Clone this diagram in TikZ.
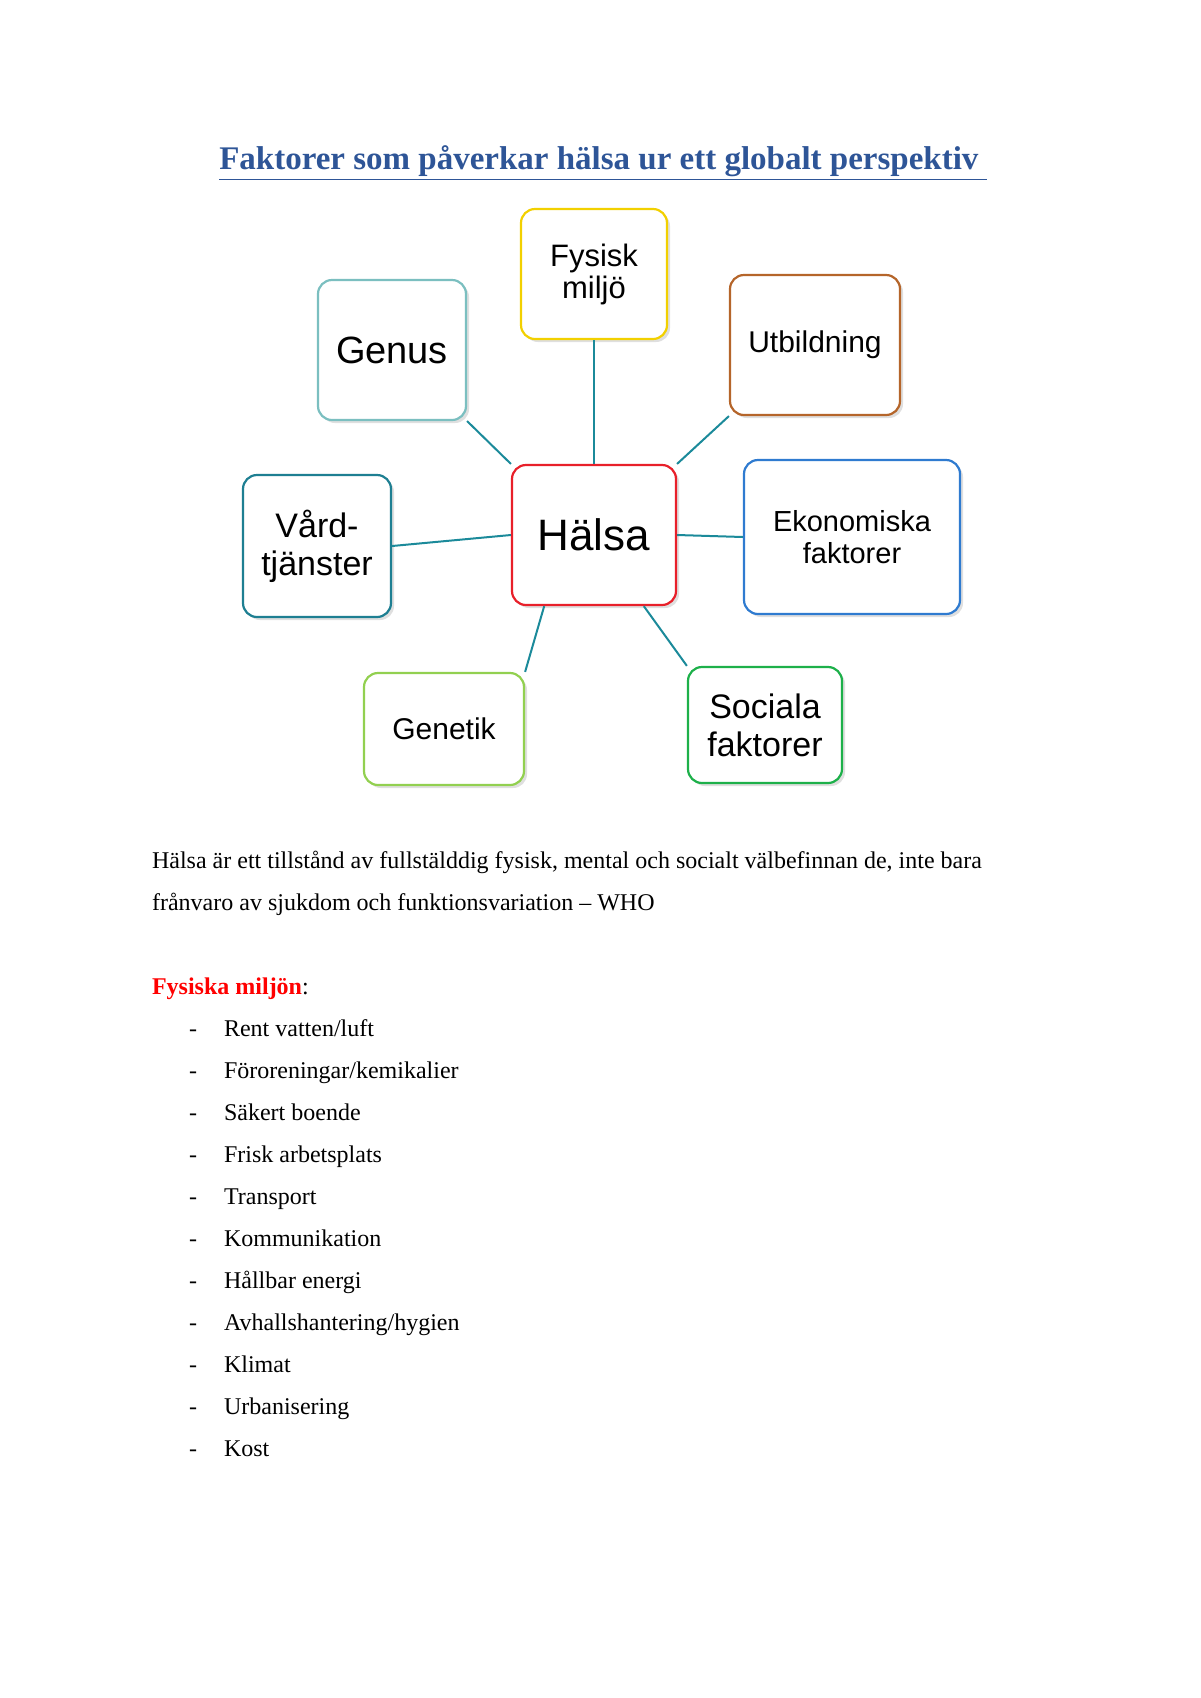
\documentclass[tikz,border=0pt]{standalone}
\usepackage{fontspec}
\setmainfont{Liberation Serif}
\newfontfamily\boxfont{Liberation Sans}
\usetikzlibrary{positioning,shadows}
\definecolor{titleblue}{HTML}{2E5597}
\definecolor{linkteal}{HTML}{1B8A9A}
\definecolor{genuscol}{HTML}{7BBFC0}
\definecolor{fysiskcol}{HTML}{F2D000}
\definecolor{utbcol}{HTML}{B5652A}
\definecolor{vardcol}{HTML}{1E7F92}
\definecolor{halsacol}{HTML}{E8202A}
\definecolor{ekocol}{HTML}{2F7BD0}
\definecolor{genetcol}{HTML}{92D050}
\definecolor{sociacol}{HTML}{1DB04A}

\begin{document}
\begin{tikzpicture}[
    x=0.5pt, y=-0.5pt,
    factor/.style={
      rectangle,
      rounded corners=7pt,
      draw,
      line width=1.1pt,
      fill=white,
      drop shadow={opacity=0.25,shadow xshift=1.5pt,shadow yshift=-1.5pt},
      align=center,
      inner sep=0pt,
      font=\boxfont
    },
    link/.style={draw=linkteal, line width=1pt},
    item/.style={anchor=base west, font=\fontsize{12}{14}\selectfont}
  ]
  \useasboundingbox (0,0) rectangle (1200,1698);

  \node[font=\fontsize{16.5}{20}\selectfont\bfseries, text=titleblue] (title) at (603,163)
    {\underline{Faktorer som påverkar hälsa ur ett globalt perspektiv\ }};

  % factor boxes
  \node[factor, draw=halsacol, minimum width=82pt, minimum height=70pt, font=\boxfont\fontsize{22}{26}\selectfont] (halsa) at (594,535) {Hälsa};
  \node[factor, draw=fysiskcol, minimum width=73pt, minimum height=65pt, font=\boxfont\fontsize{15.5}{16}\selectfont] (fysisk) at (594,274) {Fysisk\\miljö};
  \node[factor, draw=genuscol, minimum width=74pt, minimum height=70pt, font=\boxfont\fontsize{19}{22}\selectfont] (genus) at (392,350) {Genus};
  \node[factor, draw=utbcol, minimum width=85pt, minimum height=70pt, font=\boxfont\fontsize{15}{18}\selectfont] (utb) at (815,345) {Utbildning};
  \node[factor, draw=vardcol, minimum width=74pt, minimum height=71pt, font=\boxfont\fontsize{17}{19}\selectfont] (vard) at (317,546) {Vård-\\tjänster};
  \node[factor, draw=ekocol, minimum width=108pt, minimum height=77pt, font=\boxfont\fontsize{14.5}{16}\selectfont] (eko) at (852,537) {Ekonomiska\\faktorer};
  \node[factor, draw=genetcol, minimum width=80pt, minimum height=56pt, font=\boxfont\fontsize{15}{18}\selectfont] (genet) at (444,729) {Genetik};
  \node[factor, draw=sociacol, minimum width=77pt, minimum height=58pt, font=\boxfont\fontsize{17}{19}\selectfont] (socia) at (765,725) {Sociala\\faktorer};

  % connectors
  \draw[link] (fysisk.south) -- (halsa.north);
  \draw[link] (genus.south east) -- (halsa.north west);
  \draw[link] (utb.south west) -- (halsa.north east);
  \draw[link] (vard.east) -- (halsa.west);
  \draw[link] (eko.west) -- (halsa.east);
  \draw[link] (genet.north east) -- (halsa.-125);
  \draw[link] (socia.north west) -- (halsa.-55);

  % text below
  \node[item] (def1) at (145,868) {Hälsa är ett tillstånd av fullstälddig fysisk, mental och socialt välbefinnan de, inte bara};
  \node[item] (def2) at (145,910) {frånvaro av sjukdom och funktionsvariation – WHO};
  \node[item] (head) at (145,994) {\textcolor{red}{\bfseries Fysiska miljön}:};
  \foreach \txt [count=\i] in {Rent vatten/luft, Föroreningar/kemikalier, Säkert boende,
      Frisk arbetsplats, Transport, Kommunikation, Hållbar energi,
      Avhallshantering/hygien, Klimat, Urbanisering, Kost}{
    \node[item] (dash\i) at (182,994+42*\i) {-};
    \node[item] (it\i) at (217,994+42*\i) {\txt};
  }
\end{tikzpicture}
\end{document}
